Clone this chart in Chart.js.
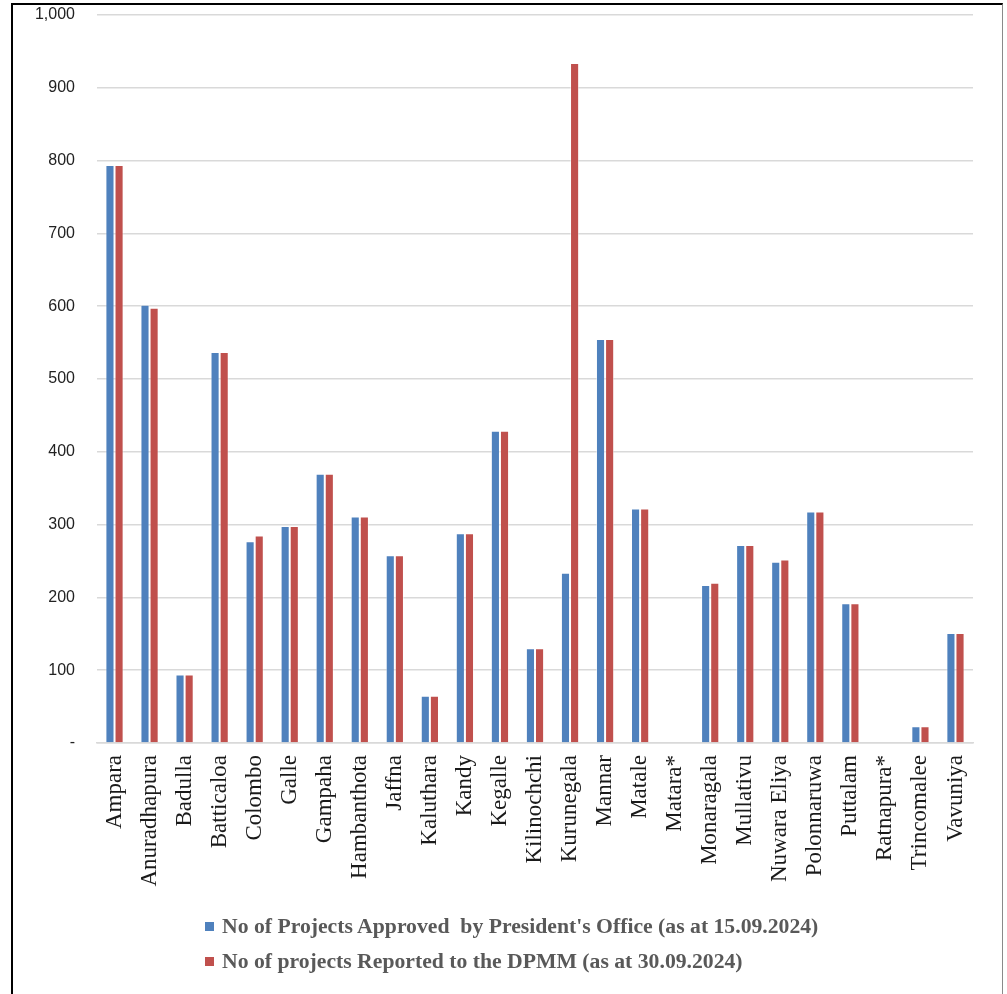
<!DOCTYPE html>
<html>
<head>
<meta charset="utf-8">
<script src="https://cdn.jsdelivr.net/npm/chart.js@4.4.1/dist/chart.umd.min.js"></script>
<style>
  html, body { margin: 0; padding: 0; background: #ffffff; }
  #wrap { position: relative; width: 1007px; height: 994px; overflow: hidden; }
  #frame { position: absolute; left: 11px; top: 3px; width: 992px; height: 1100px;
           border-top: 2px solid #000; border-left: 2px solid #000; border-right: 1px solid #8a8a8a; box-sizing: border-box; }
  canvas { position: absolute; left: 0; top: 0; }
  #legend { position: absolute; left: 205px; top: 909px; font-family: "Liberation Serif", serif;
            font-weight: bold; font-size: 21.7px; color: #595959; }
  .item { display: flex; align-items: center; height: 35px; white-space: pre; }
  .box { width: 9px; height: 9px; margin-right: 8px; flex: none; }
</style>
</head>
<body>
<div id="wrap">
  <div id="frame"></div>
  <canvas id="c" width="1007" height="994"></canvas>
  <div id="legend"></div>
</div>
<script>
const categories = ["Ampara","Anuradhapura","Badulla","Batticaloa","Colombo","Galle","Gampaha","Hambanthota","Jaffna","Kaluthara","Kandy","Kegalle","Kilinochchi","Kurunegala","Mannar","Matale","Matara*","Monaragala","Mullativu","Nuwara Eliya","Polonnaruwa","Puttalam","Ratnapura*","Trincomalee","Vavuniya"];
const approvedLabel = "No of Projects Approved  by President's Office (as at 15.09.2024)";
const reportedLabel = "No of projects Reported to the DPMM (as at 30.09.2024)";
const approved = [794, 602, 94, 537, 277, 298, 370, 311, 258, 65, 288, 429, 130, 234, 555, 322, null, 217, 272, 249, 318, 192, null, 23, 151];
const reported = [794, 598, 94, 537, 285, 298, 370, 311, 258, 65, 288, 429, 130, 934, 555, 322, null, 220, 272, 252, 318, 192, null, 23, 151];
const yTicks = [0, 100, 200, 300, 400, 500, 600, 700, 800, 900, 1000];
const colors = ["#4F81BD", "#C0504D"];

const ctx = document.getElementById('c').getContext('2d');
const chart = new Chart(ctx, {
  type: 'bar',
  data: {
    labels: categories,
    datasets: [
      { label: approvedLabel, data: approved, backgroundColor: colors[0], borderColor: 'rgba(255,255,255,0.5)', borderWidth: 1, borderSkipped: 'start' },
      { label: reportedLabel, data: reported, backgroundColor: colors[1], borderColor: 'rgba(255,255,255,0.5)', borderWidth: 1, borderSkipped: 'start' }
    ]
  },
  options: {
    responsive: false,
    animation: false,
    devicePixelRatio: 1,
    layout: { padding: { left: 12, right: 34, top: 15, bottom: 101 } },
    plugins: { legend: { display: false }, tooltip: { enabled: false } },
    datasets: { bar: { categoryPercentage: 0.52, barPercentage: 1.0 } },
    scales: {
      x: {
        grid: { display: false, drawTicks: false },
        border: { display: true, color: '#d9d9d9', width: 1.5 },
        ticks: { autoSkip: false, maxRotation: 90, minRotation: 90, padding: 12,
                 color: '#1a1a1a', font: { family: '"Liberation Serif", serif', size: 23 } },
        afterFit: (s) => { s.height = 150; s.paddingLeft = 0; s.paddingRight = 0; }
      },
      y: {
        min: 0, max: 1000,
        afterBuildTicks: (s) => { s.ticks = yTicks.map(v => ({ value: v })); },
        grid: { color: '#d9d9d9', lineWidth: 1.5, drawTicks: false },
        border: { display: false },
        ticks: { padding: 22, color: '#222', font: { family: '"Liberation Sans", sans-serif', size: 16 },
                 callback: (v) => v === 0 ? '-' : v.toLocaleString('en-US') },
        afterFit: (s) => { s.width = 85; s.paddingTop = 0; s.paddingBottom = 0; }
      }
    }
  }
});

const legend = document.getElementById('legend');
[approvedLabel, reportedLabel].forEach((lab, i) => {
  const row = document.createElement('div'); row.className = 'item';
  const box = document.createElement('span'); box.className = 'box'; box.style.background = colors[i];
  const txt = document.createElement('span'); txt.textContent = lab;
  row.appendChild(box); row.appendChild(txt); legend.appendChild(row);
});
</script>
</body>
</html>
